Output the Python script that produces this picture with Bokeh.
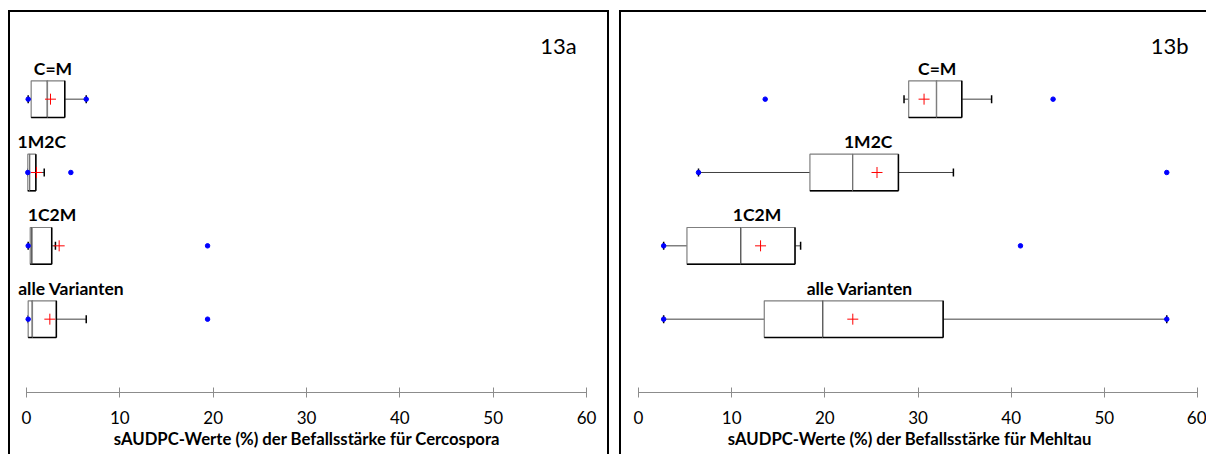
from bokeh.plotting import figure
from bokeh.layouts import row
from bokeh.models import Range1d, ColumnDataSource, FixedTicker, Label, LabelSet
from bokeh.embed import file_html
from bokeh.resources import INLINE
from bokeh.core.properties import value

# ---------------- data ----------------
groups = ["C=M", "1M2C", "1C2M", "alle Varianten"]
x_ticks = [0, 10, 20, 30, 40, 50, 60]

# 13a – Cercospora
cerc_min = [0.18, 0.14, 0.18, 0.18]
cerc_lw = [0.18, 0.14, 0.18, 0.18]
cerc_q1 = [0.5, 0.14, 0.4, 0.18]
cerc_med = [2.25, 0.35, 0.6, 0.64]
cerc_q3 = [4.1, 1.0, 2.7, 3.2]
cerc_uw = [6.4, 1.9, 3.1, 6.4]
cerc_max = [6.4, 4.75, 19.4, 19.4]
cerc_mean = [2.57, 1.07, 3.5, 2.5]

# 13b – Mehltau
mehl_min = [13.6, 6.44, 2.7, 2.7]
mehl_lw = [28.5, 6.44, 2.7, 2.7]
mehl_q1 = [29.0, 18.4, 5.2, 13.5]
mehl_med = [32.0, 23.0, 11.0, 19.8]
mehl_q3 = [34.7, 27.9, 16.8, 32.7]
mehl_uw = [37.9, 33.8, 17.4, 56.7]
mehl_max = [44.5, 56.7, 41.0, 56.7]
mehl_mean = [30.65, 25.6, 13.1, 23.0]

FONT = "Lato"
H = 454
BOX_H = 0.5
CAP = 0.055


def frame_css(width, left, right):
    # open-bottom black frame drawn behind the (transparent) canvas
    return {
        "background-image": "linear-gradient(#000,#000), linear-gradient(#000,#000), linear-gradient(#000,#000)",
        "background-size": f"2px {H}px, {right - left + 2}px 2px, 2px {H}px",
        "background-position": f"{left}px 10px, {left}px 10px, {right}px 10px",
        "background-repeat": "no-repeat",
        "background-color": "white",
    }


def panel(width, zero_px, sixty_px, frame_left, frame_right, tag, xlabel,
          mins, lws, q1s, meds, q3s, uws, maxs, means, label_dx):
    scale = (sixty_px - zero_px) / 60.0
    x0 = -zero_px / scale
    x1 = 60 + (width - sixty_px) / scale
    p = figure(width=width, height=H, output_backend="svg", toolbar_location=None,
               x_range=Range1d(x0, x1), y_range=Range1d(0, 5.209),
               y_axis_location=None, min_border_left=0,
               min_border_right=0, min_border_top=10,
               min_border_bottom=62)
    p.outline_line_color = None
    p.xgrid.visible = False
    p.ygrid.visible = False
    p.background_fill_color = None
    p.border_fill_color = None
    p.styles = frame_css(width, frame_left, frame_right)

    n = len(groups)
    ys = [n - i for i in range(n)]
    src = ColumnDataSource(dict(
        y=ys,
        ylo=[y - BOX_H / 2 for y in ys], yhi=[y + BOX_H / 2 for y in ys],
        clo=[y - CAP for y in ys], chi=[y + CAP for y in ys],
        mn=mins, lw=lws, q1=q1s, med=meds, q3=q3s, uw=uws, mx=maxs, mean=means,
        mid=[(a + b) / 2 for a, b in zip(q1s, q3s)],
        name=groups, dx=label_dx,
    ))

    # whiskers
    p.segment(x0="lw", y0="y", x1="q1", y1="y", source=src, line_color="#404040", line_width=1)
    p.segment(x0="q3", y0="y", x1="uw", y1="y", source=src, line_color="#404040", line_width=1)
    p.segment(x0="lw", y0="clo", x1="lw", y1="chi", source=src, line_color="black", line_width=1.5)
    p.segment(x0="uw", y0="clo", x1="uw", y1="chi", source=src, line_color="black", line_width=1.5)

    # boxes (two halves, light top/left edge, dark right/bottom edge)
    for lo, hi in (("q1", "med"), ("med", "q3")):
        p.quad(left=lo, right=hi, bottom="ylo", top="yhi", source=src,
               fill_color="white", line_color="#7f7f7f", line_width=1.2)
        p.segment(x0=hi, y0="ylo", x1=hi, y1="yhi", source=src, line_color="black", line_width=1.5)
        p.segment(x0=lo, y0="ylo", x1=hi, y1="ylo", source=src, line_color="black", line_width=1.5)

    # min / max and mean
    p.scatter(x="mn", y="y", source=src, marker="circle", size=4.5, fill_color="#0000ff", line_color="#0000ff")
    p.scatter(x="mx", y="y", source=src, marker="circle", size=4.5, fill_color="#0000ff", line_color="#0000ff")
    p.scatter(x="mean", y="y", source=src, marker="cross", size=11, line_color="#ff0000", line_width=1)

    # group labels
    p.add_layout(LabelSet(x="mid", y="yhi", text="name", source=src, x_offset="dx", y_offset=6,
                          text_align="center", text_baseline="alphabetic",
                          text_font=value(FONT), text_font_style="bold", text_font_size="17.5px",
                          text_color="black"))

    # panel tag
    p.add_layout(Label(x=57, y=4.73, text=tag, text_align="center", text_baseline="middle",
                       text_font=FONT, text_font_size="22px", text_color="black"))

    # axis
    ax = p.xaxis[0]
    ax.ticker = FixedTicker(ticks=x_ticks)
    ax.bounds = (0, 60)
    ax.axis_line_color = "#8c8c8c"
    ax.major_tick_line_color = "#8c8c8c"
    ax.major_tick_in = 5
    ax.major_tick_out = 5
    ax.minor_tick_line_color = None
    ax.major_label_text_font = FONT
    ax.major_label_text_font_size = "17px"
    ax.major_label_text_color = "black"
    ax.major_label_standoff = 13
    ax.axis_label = xlabel
    ax.axis_label_text_font = FONT
    ax.axis_label_text_font_style = "bold"
    ax.axis_label_text_font_size = "16.7px"
    ax.axis_label_text_color = "black"
    ax.axis_label_standoff = 2
    return p


p1 = panel(613, 26, 586, 8, 607, "13a",
           "sAUDPC-Werte (%) der Befallsstärke für Cercospora",
           cerc_min, cerc_lw, cerc_q1, cerc_med, cerc_q3, cerc_uw, cerc_max, cerc_mean,
           [5, 10, 11, 29])
p2 = panel(593, 25, 584, 6, 700, "13b",
           "sAUDPC-Werte (%) der Befallsstärke für Mehltau",
           mehl_min, mehl_lw, mehl_q1, mehl_med, mehl_q3, mehl_uw, mehl_max, mehl_mean,
           [2, 14, 16, 6])

layout = row(p1, p2)
open("out.html", "w").write(file_html(layout, INLINE))
